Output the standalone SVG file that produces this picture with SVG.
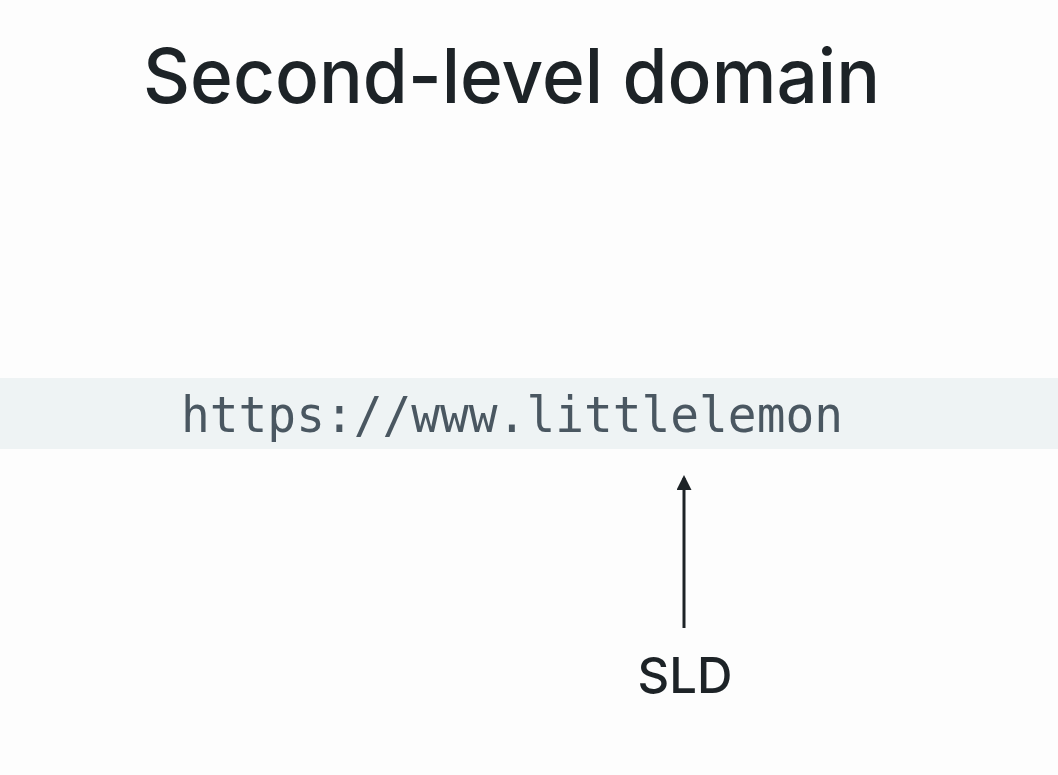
<svg xmlns="http://www.w3.org/2000/svg" width="1058" height="775" viewBox="0 0 1058 775">
  <style>
    .title { font-family: Inter, "Open Sans", "Liberation Sans", sans-serif; font-size: 76px; font-weight: 500; fill: #1d2327; }
    .url { font-family: "DejaVu Sans Mono", "Liberation Mono", monospace; font-size: 50px; fill: #4a5761; }
    .label { font-family: Inter, "Open Sans", "Liberation Sans", sans-serif; font-size: 50px; font-weight: 500; fill: #1d2327; }
    .conn { stroke: #1d2327; stroke-width: 3; fill: none; }
  </style>
  <defs>
    <marker id="head" viewBox="0 0 10 10" refX="8" refY="5" markerWidth="5" markerHeight="5" orient="auto">
      <path d="M0,0 L10,5 L0,10 z" fill="#1d2327"/>
    </marker>
  </defs>
  <rect width="1058" height="775" fill="#fdfdfd"/>
  <text class="title" x="143" y="103" textLength="737" lengthAdjust="spacingAndGlyphs">Second-level domain</text>
  <g id="url">
    <rect x="0" y="378" width="1058" height="71" fill="#eef3f4"/>
    <text class="url" x="181" y="432" textLength="662" lengthAdjust="spacingAndGlyphs">https://www.littlelemon</text>
  </g>
  <g id="connectors">
    <line class="conn" x1="684" y1="628" x2="684" y2="478" marker-end="url(#head)"/>
  </g>
  <g id="sld">
    <text class="label" x="685" y="693" text-anchor="middle" textLength="95" lengthAdjust="spacingAndGlyphs">SLD</text>
  </g>
</svg>
